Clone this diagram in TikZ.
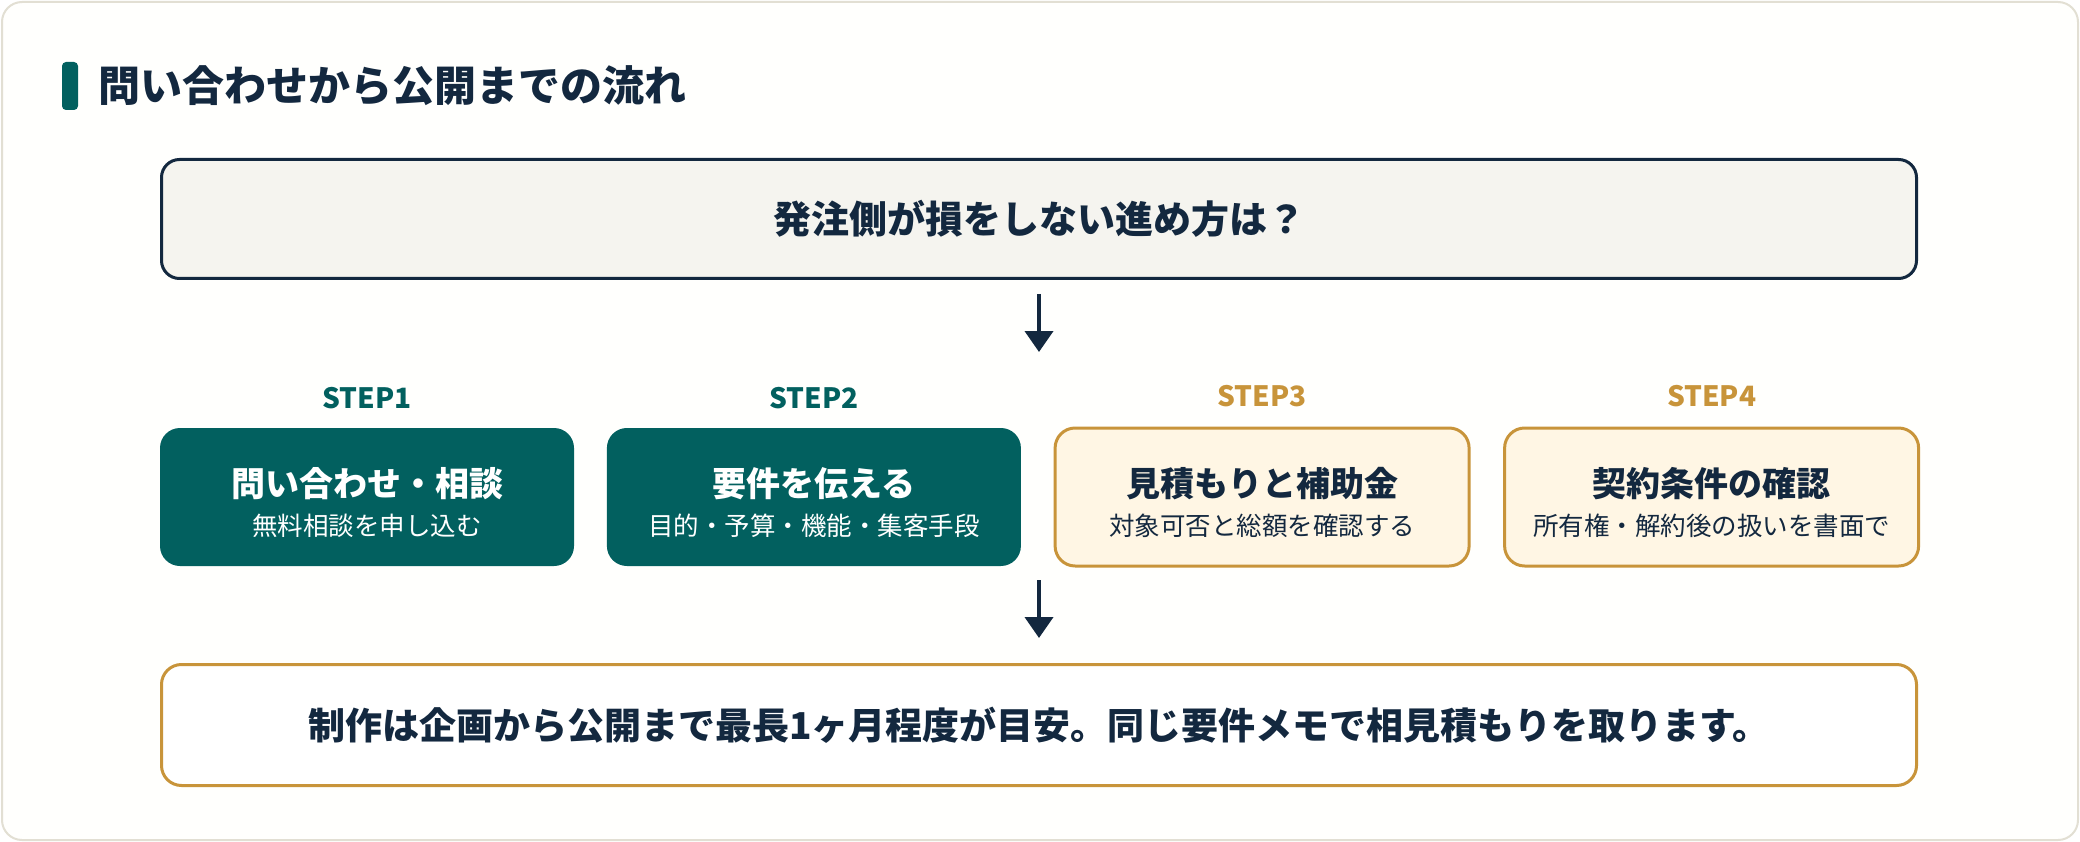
\documentclass[tikz,border=0pt]{standalone}
\usepackage{fontspec}
\setmainfont{Noto Sans CJK JP}
\usepackage{xcolor}
\usepackage{tikz}
\usetikzlibrary{positioning,calc,arrows.meta}

\definecolor{navy}{HTML}{13283F}
\definecolor{tealbox}{HTML}{02605F}
\definecolor{gold}{HTML}{C8943A}
\definecolor{cream}{HTML}{FFF6E4}
\definecolor{paper}{HTML}{F5F4EF}
\definecolor{frameline}{HTML}{E2DFD3}
\definecolor{framefill}{HTML}{FFFFFD}

\newcommand{\steptitle}[1]{{\fontsize{34}{40}\selectfont\bfseries\rule{0pt}{40pt}#1}}
\newcommand{\stepsub}[1]{{\fontsize{25.5}{40}\selectfont #1}}

\begin{document}
\begin{tikzpicture}[
    x=1pt, y=-1pt,
    node distance=32.5pt,
    frame/.style={draw=frameline, fill=framefill, line width=2pt, rounded corners=20pt},
    bar/.style={rectangle, fill=tealbox, rounded corners=4pt, minimum width=16pt, minimum height=48pt, inner sep=0pt},
    heading/.style={text=navy, font=\fontsize{42}{50}\selectfont\bfseries, inner sep=0pt},
    question/.style={rectangle, draw=navy, fill=paper, line width=3pt, rounded corners=18pt, minimum width=1755pt, minimum height=119pt, text=navy, font=\fontsize{38}{46}\selectfont\bfseries},
    stepgreen/.style={rectangle, fill=tealbox, text=white, rounded corners=20pt, minimum width=414pt, minimum height=138pt, align=center, inner sep=0pt},
    stepgold/.style={stepgreen, fill=cream, draw=gold, line width=3pt, text=navy},
    steplabel/.style={font=\fontsize{28}{32}\selectfont\bfseries, inner sep=0pt},
    summary/.style={rectangle, draw=gold, fill=white, line width=3pt, rounded corners=20pt, minimum width=1755pt, minimum height=121pt, text=navy, font=\fontsize{37}{44}\selectfont\bfseries},
    arrow/.style={-{Triangle[width=28pt,length=21pt]}, line width=4pt, navy}
]
    % Card background
    \useasboundingbox (0,0) rectangle (2080,842);
    \draw[frame] (2,2) rectangle (2078,840);

    % Heading
    \node[bar] (bar) at (70,86) {};
    \node[heading, right=20pt of bar] (heading) {問い合わせから公開までの流れ};

    % Question
    \node[question] (question) at (1039,219) {発注側が損をしない進め方は？};

    % Steps
    \node[stepgreen] (s1) at (367,497) {\steptitle{問い合わせ・相談}\\[13pt]\stepsub{無料相談を申し込む}};
    \node[stepgreen, right=of s1] (s2) {\steptitle{要件を伝える}\\[13pt]\stepsub{目的・予算・機能・集客手段}};
    \node[stepgold, right=of s2] (s3) {\steptitle{見積もりと補助金}\\[13pt]\stepsub{対象可否と総額を確認する}};
    \node[stepgold, right=of s3] (s4) {\steptitle{契約条件の確認}\\[13pt]\stepsub{所有権・解約後の扱いを書面で}};

    % Step labels
    \node[steplabel, text=tealbox] (l1) at ($(s1.north)+(0,-30)$) {STEP1};
    \node[steplabel, text=tealbox] (l2) at ($(s2.north)+(0,-30)$) {STEP2};
    \node[steplabel, text=gold] (l3) at ($(s3.north)+(0,-30)$) {STEP3};
    \node[steplabel, text=gold] (l4) at ($(s4.north)+(0,-30)$) {STEP4};

    % Summary
    \node[summary] (summary) at (1039,725) {制作は企画から公開まで最長1ヶ月程度が目安。同じ要件メモで相見積もりを取ります。};

    % Arrows
    \coordinate (rowtop) at (1039,352);
    \coordinate (rowbottom) at (1039,580);
    \draw[arrow, shorten <=14pt] (question.south) -- (rowtop);
    \draw[arrow, shorten >=25pt] (rowbottom) -- (summary.north);
\end{tikzpicture}
\end{document}
